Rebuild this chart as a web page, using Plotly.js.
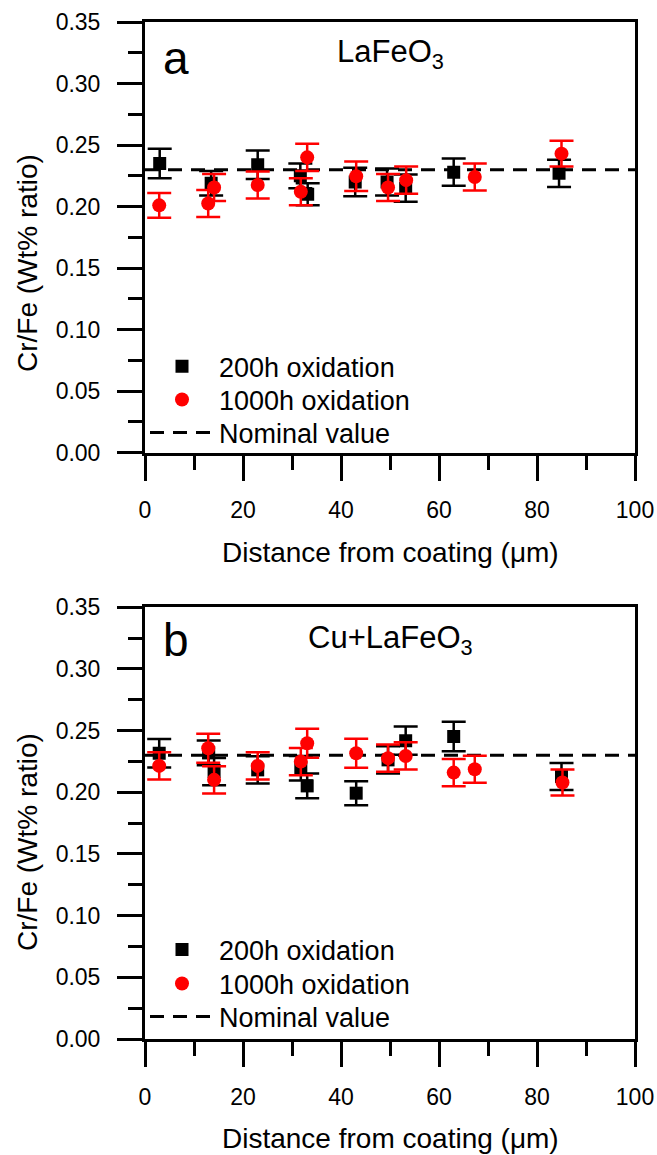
<!DOCTYPE html>
<html>
<head>
<meta charset="utf-8">
<script src="https://cdn.plot.ly/plotly-3.0.1.min.js"></script>
<style>
html,body{margin:0;padding:0;background:#fff;}
#chart{width:657px;height:1155px;}
</style>
</head>
<body>
<div id="chart"></div>
<script>
// ---------- data ----------
const seriesNames = ["200h oxidation", "1000h oxidation", "Nominal value"];
const panelLabels = ["a", "b"];
const panelTitles = ["LaFeO<sub>3</sub>", "Cu+LaFeO<sub>3</sub>"];
const xTitle = "Distance from coating (\u03bcm)";
const yTitle = "Cr/Fe (Wt% ratio)";

const nominalX = [0, 100];
const nominalY = [0.23, 0.23];

// panel a (LaFeO3)
const aBlackX = [3, 13.5, 23, 31.7, 33.2, 42.9, 49.4, 53.2, 63, 84.5];
const aBlackY = [0.235, 0.219, 0.234, 0.225, 0.210, 0.220, 0.220, 0.215, 0.228, 0.227];
const aBlackErr = [0.012, 0.010, 0.0115, 0.010, 0.009, 0.0115, 0.011, 0.011, 0.011, 0.011];

const aRedX = [2.9, 12.9, 14.1, 23, 31.8, 33.1, 43.1, 49.6, 53.3, 67.3, 85];
const aRedY = [0.201, 0.2025, 0.2155, 0.2175, 0.212, 0.240, 0.2247, 0.2155, 0.2215, 0.224, 0.243];
const aRedErr = [0.010, 0.011, 0.011, 0.011, 0.011, 0.011, 0.012, 0.011, 0.011, 0.011, 0.0105];

// panel b (Cu+LaFeO3)
const bBlackX = [2.9, 13, 14.1, 23, 31.8, 33.1, 43.1, 49.6, 53.2, 63, 85];
const bBlackY = [0.2317, 0.232, 0.2168, 0.2182, 0.2195, 0.2052, 0.1993, 0.2263, 0.2419, 0.2452, 0.2128];
const bBlackErr = [0.0115, 0.010, 0.011, 0.011, 0.010, 0.010, 0.0097, 0.011, 0.0115, 0.012, 0.011];

const bRedX = [2.9, 12.9, 14.1, 23, 31.8, 33.1, 43.1, 49.6, 53.2, 63, 67.3, 85.2];
const bRedY = [0.2214, 0.2357, 0.2101, 0.2214, 0.2249, 0.2398, 0.2317, 0.2277, 0.2295, 0.216, 0.2187, 0.2079];
const bRedErr = [0.011, 0.0118, 0.011, 0.011, 0.011, 0.0117, 0.0117, 0.011, 0.011, 0.011, 0.011, 0.0105];

const xTickVals = [0, 20, 40, 60, 80, 100];
const yTickVals = [0, 0.05, 0.10, 0.15, 0.20, 0.25, 0.30, 0.35];

// ---------- traces ----------
const FONT = "Liberation Sans, Arial, sans-serif";
function panelTraces(xa, ya, lg, bx, by, be, rx, ry, re) {
  return [
    {x: nominalX, y: nominalY, xaxis: xa, yaxis: ya, type: "scatter", mode: "lines",
     name: seriesNames[2], legend: lg[2],
     line: {color: "#000", width: 3, dash: "14px,9px"}},
    {x: bx, y: by, xaxis: xa, yaxis: ya, type: "scatter", mode: "markers",
     name: seriesNames[0], legend: lg[0],
     marker: {symbol: "square", size: 13, color: "#000"},
     error_y: {type: "data", array: be, visible: true, color: "#000", thickness: 2.5, width: 12}},
    {x: rx, y: ry, xaxis: xa, yaxis: ya, type: "scatter", mode: "markers",
     name: seriesNames[1], legend: lg[1],
     marker: {symbol: "circle", size: 14, color: "#ff0000"},
     error_y: {type: "data", array: re, visible: true, color: "#ff0000", thickness: 2.5, width: 12}}
  ];
}
const data = [].concat(
  panelTraces("x", "y", ["legend", "legend2", "legend3"], aBlackX, aBlackY, aBlackErr, aRedX, aRedY, aRedErr),
  panelTraces("x2", "y2", ["legend4", "legend5", "legend6"], bBlackX, bBlackY, bBlackErr, bRedX, bRedY, bRedErr)
);

// ---------- layout ----------
const T = 22, B = 116, H = 1155, L = 145, R = 22;
const plotH = H - T - B;
function py(p) { return (H - B - p) / plotH; }   // pixel y -> paper
function px(p) { return (p - L) / (657 - L - R); } // pixel x -> paper

function xAxis(anchor) {
  return {anchor: anchor, range: [0, 100], tickvals: xTickVals, ticks: "outside",
    ticklen: 25, tickwidth: 3, tickcolor: "#000", showline: true, linewidth: 3,
    linecolor: "#000", mirror: true, showgrid: false, zeroline: false,
    ticklabelstandoff: 10,
    tickfont: {family: FONT, size: 23, color: "#000"},
    minor: {dtick: 10, ticks: "outside", ticklen: 14, tickwidth: 3, tickcolor: "#000", showgrid: false}};
}
function yAxis(anchor, dom) {
  return {anchor: anchor, domain: dom, range: [0, 0.35], tickvals: yTickVals, tickformat: ".2f",
    ticks: "outside", ticklen: 25, tickwidth: 3, tickcolor: "#000", showline: true,
    linewidth: 3, linecolor: "#000", mirror: true, showgrid: false, zeroline: false,
    ticklabelstandoff: 12,
    tickfont: {family: FONT, size: 23, color: "#000"},
    minor: {dtick: 0.025, ticks: "outside", ticklen: 14, tickwidth: 3, tickcolor: "#000", showgrid: false}};
}

function leg(pixY) {
  return {x: 0, xanchor: "left", y: py(pixY), yanchor: "middle", bgcolor: "rgba(0,0,0,0)",
    borderwidth: 0, itemwidth: 64,
    font: {family: FONT, size: 27, color: "#000"}};
}

const ann = [];
const titleY = [py(552), py(1138)];
const yTitleY = [py(263), py(842)];
const labelY = [py(58), py(640)];
const innerY = [py(54), py(640)];
for (let i = 0; i < 2; i++) {
  ann.push({xref: "paper", yref: "paper", x: 0.5, y: titleY[i], text: xTitle, showarrow: false,
    xanchor: "center", yanchor: "middle", font: {family: FONT, size: 28, color: "#000"}});
  ann.push({xref: "paper", yref: "paper", x: px(27), y: yTitleY[i], text: yTitle, showarrow: false,
    textangle: -90, xanchor: "center", yanchor: "middle", font: {family: FONT, size: 28, color: "#000"}});
  ann.push({xref: "paper", yref: "paper", x: px(161), y: labelY[i], text: panelLabels[i], showarrow: false,
    xanchor: "left", yanchor: "middle", font: {family: FONT, size: 46, color: "#000"}});
  ann.push({xref: "paper", yref: "paper", x: 0.5, y: innerY[i], text: panelTitles[i], showarrow: false,
    xanchor: "center", yanchor: "middle", font: {family: FONT, size: 31, color: "#000"}});
}

const layout = {
  width: 657, height: 1155,
  margin: {l: L, r: R, t: T, b: B, pad: 0},
  paper_bgcolor: "#fff", plot_bgcolor: "#fff",
  showlegend: true,
  xaxis: xAxis("y"),
  yaxis: yAxis("x", [py(452.7), 1]),
  xaxis2: xAxis("y2"),
  yaxis2: yAxis("x2", [0, py(607.3)]),
  legend: leg(366.7),
  legend2: leg(400),
  legend3: leg(433),
  legend4: leg(950),
  legend5: leg(984),
  legend6: leg(1017),
  annotations: ann
};

Plotly.newPlot("chart", data, layout, {staticPlot: true, displayModeBar: false});
</script>
</body>
</html>
